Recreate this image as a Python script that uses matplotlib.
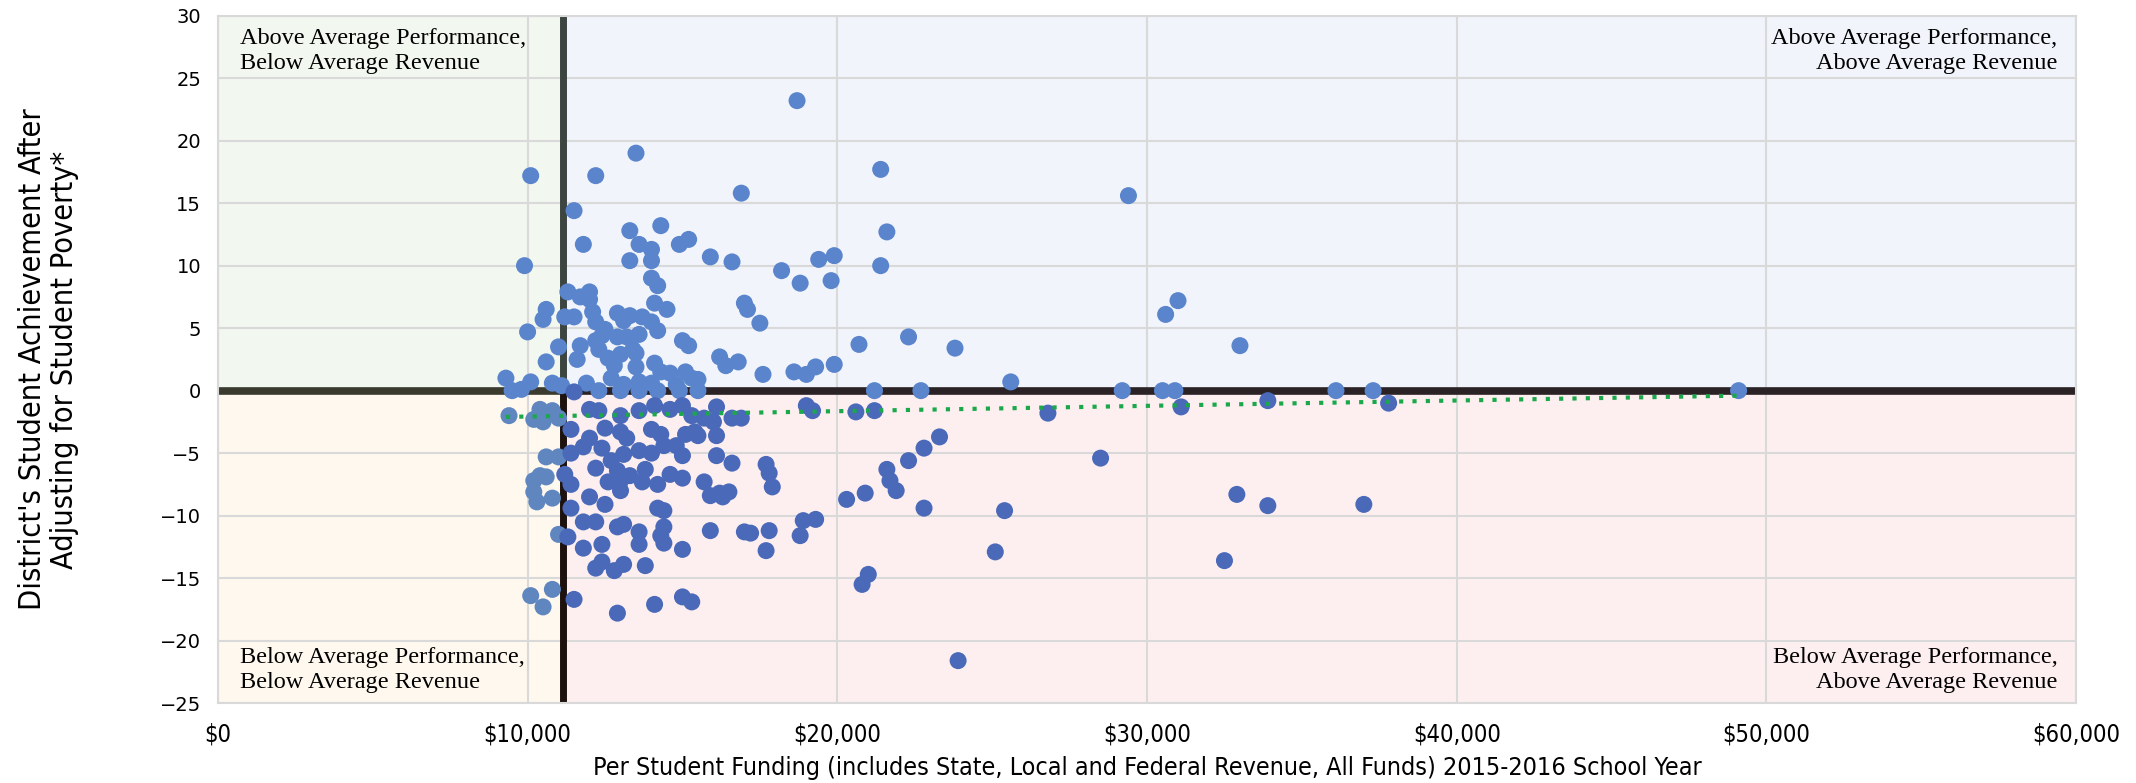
import matplotlib
matplotlib.use("Agg")
import matplotlib.pyplot as plt
from matplotlib import font_manager
from matplotlib.ticker import FuncFormatter, MultipleLocator

# funding in $ thousands, achievement score
funding = [18.7, 10.1, 12.2, 13.5, 21.4, 16.9, 29.4, 11.5, 13.3, 14.3, 21.6, 14.9, 15.2, 13.6, 11.8,
           14.0, 13.3, 14.0, 15.9, 16.6, 19.4, 19.9, 21.4, 9.9, 18.2, 14.0, 14.2, 18.8, 19.8, 11.3,
           12.0, 12.0, 11.7, 14.1, 14.5, 17.0, 17.1, 31.0, 30.6, 10.6, 10.5, 11.5, 11.2, 12.9, 13.3,
           13.7, 14.0, 13.1, 12.1, 12.2, 12.5, 17.5, 10.0, 12.4, 12.9, 13.2, 13.6, 14.2, 22.3, 12.2,
           11.7, 12.3, 13.4, 15.0, 15.2, 20.7, 23.8, 33.0, 11.0, 12.6, 13.0, 13.5, 16.2, 16.4, 16.8,
           10.6, 11.6, 12.8, 13.5, 14.1, 14.3, 14.6, 15.3, 15.1, 17.6, 18.6, 19.0, 19.3, 19.9, 9.3,
           10.1, 10.8, 11.1, 11.9, 12.7, 13.1, 13.6, 14.0, 14.8, 15.5, 25.6,
           9.5, 9.8, 11.5, 12.3, 13.0, 13.6, 14.2, 14.9, 15.5, 21.2, 22.7, 29.2, 30.5, 30.9, 36.1,
           37.3, 49.1,
           9.4, 10.2, 10.5, 10.8, 10.4, 11.0, 12.0, 12.3, 13.0, 13.6, 14.1, 14.6, 15.0, 15.3, 15.7,
           16.1, 16.6, 16.9, 19.2, 19.0, 20.6, 21.2, 26.8, 31.1, 33.9, 37.8,
           11.4, 12.0, 12.5, 13.0, 13.2, 14.0, 14.3, 15.1, 15.4, 16.1, 16.0,
           10.6, 11.0, 11.4, 11.8, 12.4, 12.7, 13.1, 13.6, 14.0, 14.4, 14.8, 15.0, 15.5, 16.1, 16.6,
           17.7, 17.8, 21.6, 22.3, 22.8, 23.3, 28.5,
           10.2, 10.4, 10.6, 10.2, 10.3, 10.8, 11.4, 11.2, 12.2, 12.9, 13.3, 13.8, 14.6, 12.6, 13.0,
           13.7, 14.2, 15.0, 15.7, 15.9, 16.2, 16.5, 17.9, 20.3, 20.9, 21.7, 21.9, 25.4, 22.8, 32.9,
           33.9, 37.0,
           11.4, 12.0, 12.5, 13.0, 14.2, 14.4, 16.3, 18.9, 19.3,
           11.8, 12.2, 12.9, 13.1, 13.6, 14.3, 14.4, 15.9, 17.0, 17.2, 17.8, 18.8, 11.0, 11.3,
           11.8, 12.4, 13.6, 14.4, 15.0, 17.7, 25.1, 32.5,
           12.4, 12.8, 13.1, 12.2, 13.8, 21.0, 20.8,
           10.1, 10.8, 10.5, 11.5, 12.9, 14.1, 15.0, 15.3,
           23.9]
achievement = [23.2, 17.2, 17.2, 19.0, 17.7, 15.8, 15.6, 14.4, 12.8, 13.2, 12.7, 11.7, 12.1, 11.7, 11.7,
               11.3, 10.4, 10.4, 10.7, 10.3, 10.5, 10.8, 10.0, 10.0, 9.6, 9.0, 8.4, 8.6, 8.8, 7.9,
               7.9, 7.3, 7.5, 7.0, 6.5, 7.0, 6.5, 7.2, 6.1, 6.5, 5.7, 5.9, 5.9, 6.2, 6.0,
               5.9, 5.5, 5.6, 6.3, 5.5, 4.9, 5.4, 4.7, 4.4, 4.3, 4.3, 4.5, 4.8, 4.3, 4.0,
               3.6, 3.3, 3.3, 4.0, 3.6, 3.7, 3.4, 3.6, 3.5, 2.6, 2.9, 3.0, 2.7, 2.0, 2.3,
               2.3, 2.5, 2.0, 1.9, 2.2, 1.5, 1.4, 1.0, 1.5, 1.3, 1.5, 1.3, 1.9, 2.1, 1.0,
               0.7, 0.6, 0.4, 0.6, 1.0, 0.5, 0.7, 0.6, 0.5, 0.9, 0.7,
               0.0, 0.1, -0.1, 0.0, 0.0, 0.0, 0.0, 0.0, 0.0, 0.0, 0.0, 0.0, 0.0, 0.0, 0.0,
               0.0, 0.0,
               -2.0, -2.3, -2.5, -1.6, -1.5, -2.2, -1.5, -1.6, -2.0, -1.6, -1.2, -1.5, -1.2, -2.0, -2.2,
               -1.3, -2.2, -2.2, -1.6, -1.2, -1.7, -1.6, -1.8, -1.3, -0.8, -1.0,
               -3.1, -3.8, -3.0, -3.3, -3.8, -3.1, -3.5, -3.5, -3.3, -3.6, -2.5,
               -5.3, -5.3, -5.0, -4.5, -4.6, -5.6, -5.1, -4.8, -5.0, -4.4, -4.4, -5.2, -3.6, -5.2, -5.8,
               -5.9, -6.6, -6.3, -5.6, -4.6, -3.7, -5.4,
               -7.2, -6.8, -6.9, -8.1, -8.9, -8.6, -7.5, -6.7, -6.2, -6.4, -6.8, -6.3, -6.7, -7.3, -7.2,
               -7.3, -7.5, -7.0, -7.3, -8.4, -8.2, -8.1, -7.7, -8.7, -8.2, -7.2, -8.0, -9.6, -9.4, -8.3,
               -9.2, -9.1,
               -9.4, -8.5, -9.1, -8.0, -9.4, -9.6, -8.5, -10.4, -10.3,
               -10.5, -10.5, -10.9, -10.7, -11.3, -11.6, -10.9, -11.2, -11.3, -11.4, -11.2, -11.6, -11.5, -11.7,
               -12.6, -12.3, -12.3, -12.2, -12.7, -12.8, -12.9, -13.6,
               -13.7, -14.4, -13.9, -14.2, -14.0, -14.7, -15.5,
               -16.4, -15.9, -17.3, -16.7, -17.8, -17.1, -16.5, -16.9,
               -21.6]

avg_revenue = 11.15  # $ thousands, vertical divider
trend_x = [9.3, 49.1]
trend_y = [-2.1, -0.4]

x_ticks = [0, 10, 20, 30, 40, 50, 60]
quadrant_labels = ["Above Average Performance,\nBelow Average Revenue",
                   "Above Average Performance,\nAbove Average Revenue",
                   "Below Average Performance,\nBelow Average Revenue",
                   "Below Average Performance,\nAbove Average Revenue"]

# look for an upright condensed sans face for the axis titles
cond = None
for f in font_manager.fontManager.ttflist:
    if f.style != "normal":
        continue
    if f.weight not in (400, "normal", "regular", 500, "medium"):
        continue
    if f.stretch in ("condensed", "semi-condensed", "extra-condensed") or "Narrow" in f.name or "Condensed" in f.name:
        cond = f.fname
        break
if cond:
    title_font = font_manager.FontProperties(fname=cond)
    tick_font = font_manager.FontProperties(fname=cond)
else:
    title_font = font_manager.FontProperties(family="DejaVu Sans")
    tick_font = font_manager.FontProperties(family="DejaVu Sans")

fig = plt.figure(figsize=(21.36, 7.83), dpi=100)
ax = fig.add_axes([0.102, 0.102, 0.870, 0.878])
ax.set_xlim(0, 60)
ax.set_ylim(-25, 30)

# quadrant shading
ax.fill_between([0, avg_revenue], 0, 30, color="#f2f7f0", zorder=0)
ax.fill_between([avg_revenue, 60], 0, 30, color="#f1f5fb", zorder=0)
ax.fill_between([0, avg_revenue], -25, 0, color="#fff8ee", zorder=0)
ax.fill_between([avg_revenue, 60], -25, 0, color="#fdeff0", zorder=0)

ax.grid(True, color="#d9d9d9", linewidth=1.5, zorder=1)
ax.set_axisbelow(True)
for s in ax.spines.values():
    s.set_color("#d9d9d9")
    s.set_linewidth(1.5)

# divider lines
ax.plot([0, avg_revenue], [0, 0], color="#3a3a2e", linewidth=5.5, zorder=2, solid_capstyle="butt")
ax.plot([avg_revenue, 60], [0, 0], color="#2b2226", linewidth=5.5, zorder=2, solid_capstyle="butt")
ax.plot([avg_revenue, avg_revenue], [0, 30], color="#3c4540", linewidth=5, zorder=2, solid_capstyle="butt")
ax.plot([avg_revenue, avg_revenue], [-25, 0], color="#1e120e", linewidth=5, zorder=2, solid_capstyle="butt")

colors = []
for fx, ay in zip(funding, achievement):
    if ay >= 0:
        colors.append("#5a84cc")
    elif fx < avg_revenue:
        colors.append("#5f86bf")
    else:
        colors.append("#4a69b9")
ax.scatter(funding, achievement, s=150, c=colors, linewidths=0, zorder=3)

ax.plot(trend_x, trend_y, color="#1aa84a", linestyle=(0, (1, 2.2)), linewidth=3, zorder=4)

ax.set_xticks(x_ticks)
ax.xaxis.set_major_formatter(FuncFormatter(lambda v, p: "${:,.0f}".format(v * 1000)))
ax.yaxis.set_major_locator(MultipleLocator(5))
ax.tick_params(length=0)
for lab in ax.get_xticklabels():
    lab.set_fontproperties(tick_font)
    lab.set_fontsize(17)
for lab in ax.get_yticklabels():
    lab.set_family("DejaVu Sans")
    lab.set_fontsize(14)
ax.tick_params(axis="x", pad=14)
ax.tick_params(axis="y", pad=12)

ax.set_xlabel("Per Student Funding (includes State, Local and Federal Revenue, All Funds) 2015-2016 School Year",
              fontproperties=title_font, fontsize=18, labelpad=7)
ax.set_ylabel("District's Student Achievement After\nAdjusting for Student Poverty*",
              fontproperties=title_font, fontsize=22, labelpad=58, linespacing=1.15)

serif = "Liberation Serif"
ax.text(0.7, 29.0, quadrant_labels[0], family=serif, fontsize=17.5, va="top", ha="left", linespacing=1.25)
ax.text(59.4, 29.0, quadrant_labels[1], family=serif, fontsize=17.5, va="top", ha="right", linespacing=1.25)
ax.text(0.7, -24.2, quadrant_labels[2], family=serif, fontsize=17.5, va="bottom", ha="left", linespacing=1.25)
ax.text(59.4, -24.2, quadrant_labels[3], family=serif, fontsize=17.5, va="bottom", ha="right", linespacing=1.25)

fig.savefig("out.png", dpi=100, facecolor="white")
